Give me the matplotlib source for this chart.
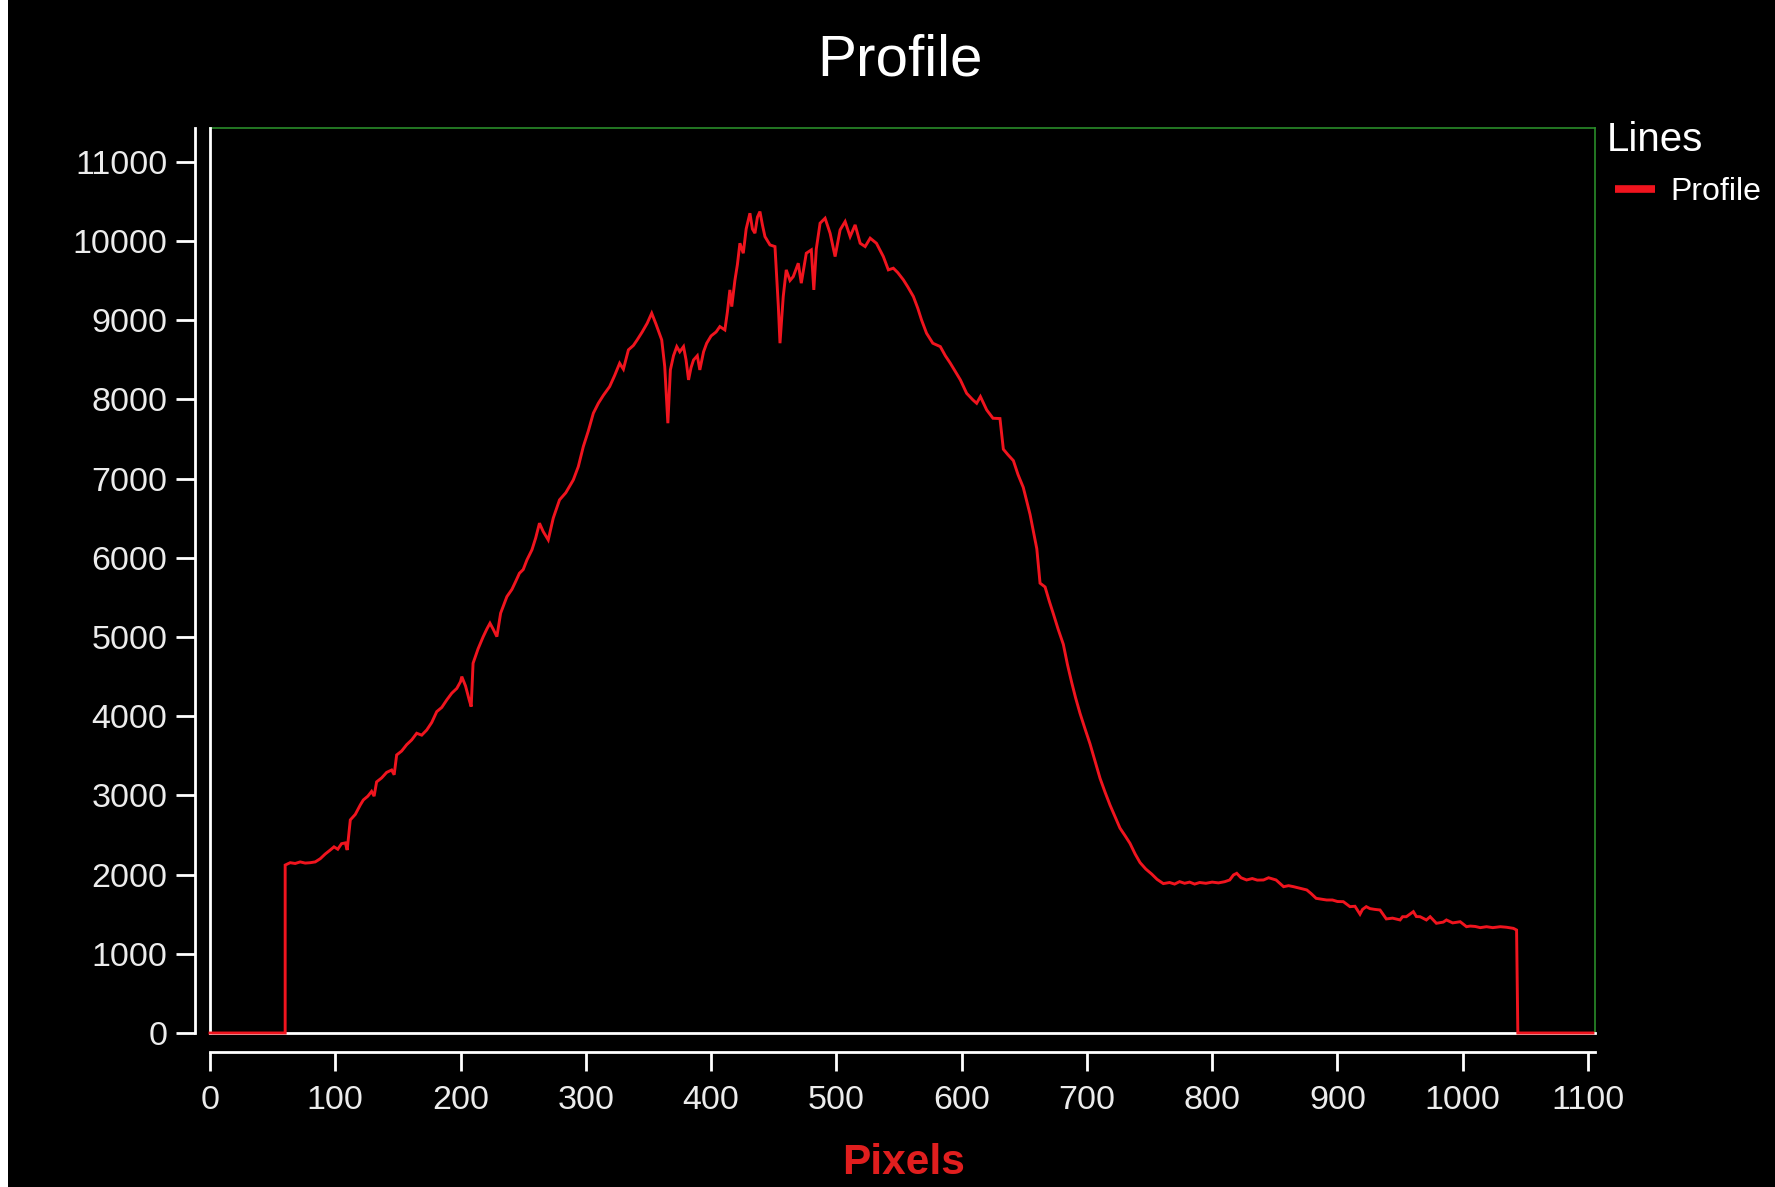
import matplotlib
matplotlib.use("Agg")
import matplotlib.pyplot as plt
from matplotlib.lines import Line2D
from matplotlib.patches import Rectangle

plt.rcParams["font.family"] = ["Liberation Sans", "DejaVu Sans"]

# Intensity profile sampled along the line (pixel position, intensity)
pixels = [
    0, 60, 60, 64, 68, 72, 76, 80, 84, 88, 92, 96, 99, 102, 105, 108, 109.5,
    112, 116, 120, 122.4, 126, 129, 131, 133, 137, 141, 145, 147, 149, 153,
    157, 161, 165, 169, 173, 177, 181, 185, 189, 193, 197, 200, 201, 204, 207,
    208.5, 210, 214, 218, 221, 223.5, 226, 229, 232, 237, 241, 244, 247, 250,
    253, 257, 260, 263, 266, 270, 274, 279, 284, 290, 294, 298, 302, 306, 310,
    314, 319, 323, 327, 330, 334, 338, 341, 345, 349, 352.6, 356, 360.6, 363,
    365.5, 367.5, 370, 372.6, 375, 378, 380, 382, 384, 386, 389, 391, 394,
    396.5, 400, 404, 407, 411, 413, 415, 416.5, 419, 421, 423, 425.7, 428, 431,
    433, 435, 437, 439, 441, 443, 447, 451, 453.7, 455, 457.6, 460, 463, 465.6,
    469.6, 472, 476, 480, 482, 484, 487, 491, 495, 499, 503, 507, 511, 515,
    519, 523, 527, 532, 537.5, 541.5, 545.5, 549, 553.5, 557, 561.5, 565, 568,
    572, 577, 583, 587, 591, 595, 599, 604, 609, 612, 615, 620, 625, 630.6,
    633.3, 637, 641.3, 645, 649.2, 654.6, 660, 662.6, 666.6, 670, 673.2, 677,
    681.2, 684.5, 687.9, 691, 694.5, 698.5, 702.5, 706.5, 710.5, 714.5, 718.5,
    722.5, 726.4, 730.5, 734.4, 738.5, 742.4, 747, 751.7, 756, 761, 766, 770,
    774, 778, 782, 786, 790, 795, 800, 805, 810, 814, 817, 819.6, 823, 827.5,
    832, 836, 841, 845, 851, 854, 857, 861, 865, 870, 875.5, 879, 883, 887,
    891.4, 896, 900, 904.7, 910, 914, 918, 920, 923, 926, 930, 934, 939, 944,
    950, 952, 955, 960.6, 963, 966, 971, 974, 979, 984.5, 987, 992, 998, 1003,
    1006, 1010, 1014, 1019, 1024, 1030, 1035, 1040.5, 1043, 1044, 1104,
]
intensity = [
    0, 0, 2120, 2150, 2140, 2160, 2145, 2150, 2160, 2200, 2260, 2310, 2350,
    2320, 2390, 2400, 2310, 2690, 2760, 2880, 2942, 2990, 3050, 2990, 3170,
    3220, 3290, 3320, 3260, 3510, 3560, 3640, 3700, 3784, 3760, 3825, 3920,
    4057, 4110, 4205, 4290, 4350, 4436, 4499, 4380, 4200, 4120, 4668, 4850,
    5000, 5100, 5173, 5100, 5004, 5300, 5509, 5600, 5700, 5804, 5850, 5972,
    6100, 6250, 6436, 6330, 6225, 6500, 6730, 6820, 6982, 7150, 7403, 7600,
    7824, 7950, 8050, 8160, 8300, 8455, 8380, 8624, 8680, 8750, 8850, 8960,
    9087, 8950, 8750, 8413, 7698, 8371, 8550, 8665, 8600, 8665, 8500, 8245,
    8400, 8497, 8550, 8371, 8600, 8708, 8800, 8850, 8918, 8876, 9100, 9381,
    9170, 9500, 9700, 9970, 9844, 10150, 10349, 10150, 10097, 10300, 10370,
    10200, 10054, 9949, 9928, 9170, 8708, 9297, 9634, 9500, 9549, 9718, 9466,
    9844, 9886, 9381, 9900, 10223, 10286, 10097, 9802, 10139, 10244, 10054,
    10202, 9970, 9928, 10034, 9970, 9802, 9634, 9655, 9600, 9508, 9420, 9297,
    9150, 9002, 8834, 8708, 8665, 8550, 8455, 8350, 8245, 8076, 7992, 7950,
    8034, 7866, 7761, 7757, 7370, 7300, 7226, 7050, 6888, 6549, 6114, 5679,
    5631, 5450, 5293, 5100, 4906, 4650, 4423, 4230, 4036, 3840, 3650, 3430,
    3215, 3040, 2876, 2730, 2587, 2490, 2394, 2260, 2152, 2070, 2007, 1940,
    1886, 1900, 1880, 1911, 1890, 1905, 1880, 1900, 1890, 1905, 1895, 1910,
    1932, 1995, 2016, 1960, 1932, 1950, 1930, 1932, 1960, 1932, 1890, 1847,
    1860, 1847, 1827, 1806, 1760, 1700, 1690, 1679, 1679, 1660, 1658, 1595,
    1600, 1500, 1560, 1595, 1570, 1560, 1553, 1440, 1450, 1427, 1468, 1468,
    1532, 1470, 1468, 1427, 1468, 1385, 1400, 1427, 1390, 1405, 1342, 1350,
    1345, 1330, 1342, 1330, 1342, 1335, 1321, 1300, 0, 0,
]

x_ticks = list(range(0, 1101, 100))
y_ticks = list(range(0, 11001, 1000))

W, H = 1775, 1187
fig = plt.figure(figsize=(W / 100, H / 100), dpi=100, facecolor="black")

# plot frame in pixel coordinates
left, right, top, bottom = 210, 1595, 128, 1033
ax = fig.add_axes([left / W, 1 - bottom / H, (right - left) / W, (bottom - top) / H])
ax.set_facecolor("black")
ax.set_xlim(0, 1105.6)
ax.set_ylim(0, 11425)

line_red = "#f0141e"
ax.plot(pixels, intensity, color=line_red, lw=2.1, zorder=5, clip_on=False,
        solid_joinstyle="miter")

# inner white frame edges
ax.axvline(0, color="white", lw=2.0, zorder=3, clip_on=False)
ax.axhline(0, color="white", lw=2.0, zorder=3, clip_on=False)

green = "#2a8c2a"
for side in ("top", "right"):
    ax.spines[side].set_color(green)
    ax.spines[side].set_linewidth(1.2)
ax.spines["left"].set_position(("outward", 15 * 0.72))
ax.spines["bottom"].set_position(("outward", 19 * 0.72))
for side in ("left", "bottom"):
    ax.spines[side].set_color("white")
    ax.spines[side].set_linewidth(2.0)

ax.set_xticks(x_ticks)
ax.set_yticks(y_ticks)
ax.tick_params(axis="both", direction="out", color="white", width=2.0,
               labelcolor="#ececec", labelsize=24.5)
ax.tick_params(axis="y", length=14, pad=6)
ax.tick_params(axis="x", length=14, pad=10)

# title and axis label
fig.text(900 / W, 1 - 76 / H, "Profile", ha="center", va="baseline",
         fontsize=42, color="white")
fig.text(904 / W, 1 - 1174 / H, "Pixels", ha="center", va="baseline",
         fontsize=30.5, fontweight="bold", color="#e01e1e")

# legend
fig.text(1607 / W, 1 - 151 / H, "Lines", ha="left", va="baseline",
         fontsize=29, color="white")
fig.add_artist(Line2D([1615 / W, 1655 / W], [1 - 189 / H, 1 - 189 / H],
                      transform=fig.transFigure, color=line_red, lw=5.5,
                      solid_capstyle="butt"))
fig.text(1670 / W, 1 - 200 / H, "Profile", ha="left", va="baseline",
         fontsize=23, color="white")

# white edge strip on the left border
fig.add_artist(Rectangle((0, 0), 8 / W, 1, transform=fig.transFigure,
                         facecolor="white", edgecolor="none"))

fig.savefig("out.png", dpi=100, facecolor="black")
